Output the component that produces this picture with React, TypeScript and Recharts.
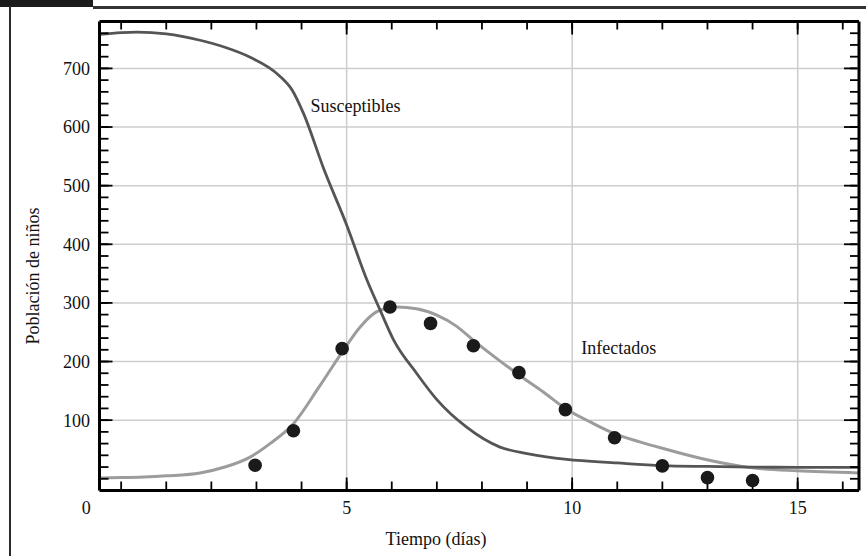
import React from 'react';
import {
  ComposedChart, Line, Scatter, XAxis, YAxis, ReferenceLine, ReferenceDot, Label
} from 'recharts';

// curva modelo: susceptibles (días, niños)
const susceptibles = [
  { x: -0.48, y: 758 }, { x: 0, y: 761 }, { x: 0.35, y: 762 }, { x: 1, y: 759 },
  { x: 1.75, y: 748 }, { x: 2.3, y: 736 }, { x: 2.86, y: 719 }, { x: 3.5, y: 688 },
  { x: 3.8, y: 662 }, { x: 4.05, y: 622 }, { x: 4.5, y: 527 }, { x: 5.0, y: 433 },
  { x: 5.45, y: 339 }, { x: 5.74, y: 288 }, { x: 6.04, y: 237 }, { x: 6.55, y: 180 },
  { x: 7.0, y: 135 }, { x: 7.66, y: 88 }, { x: 8.4, y: 54 }, { x: 9.0, y: 43 },
  { x: 9.88, y: 33 }, { x: 11.0, y: 27 }, { x: 12.0, y: 22.5 }, { x: 13, y: 21 },
  { x: 14, y: 20 }, { x: 15, y: 19.5 }, { x: 16.36, y: 19.5 },
];

// curva modelo: infectados
const infectados = [
  { x: -0.48, y: 1.5 }, { x: 0, y: 2 }, { x: 0.5, y: 3 }, { x: 1, y: 5 },
  { x: 1.75, y: 10 }, { x: 2.3, y: 20 }, { x: 2.86, y: 37 }, { x: 3.3, y: 60 },
  { x: 3.82, y: 94 }, { x: 4.4, y: 158 }, { x: 4.9, y: 216 }, { x: 5.3, y: 259 },
  { x: 5.67, y: 285 }, { x: 6.11, y: 293 }, { x: 6.55, y: 290 }, { x: 7.0, y: 279 },
  { x: 7.44, y: 260 }, { x: 7.81, y: 236 }, { x: 8.33, y: 205 }, { x: 8.82, y: 177 },
  { x: 9.36, y: 148 }, { x: 9.85, y: 120 }, { x: 10.4, y: 97 }, { x: 10.94, y: 77 },
  { x: 11.5, y: 63 }, { x: 12.0, y: 52 }, { x: 12.84, y: 35 }, { x: 13.95, y: 19 },
  { x: 14.98, y: 13.5 }, { x: 16.36, y: 10 },
];

// datos observados
const observados = [
  { x: 2.97, y: 23 }, { x: 3.82, y: 82 }, { x: 4.9, y: 222 }, { x: 5.96, y: 293 },
  { x: 6.86, y: 265 }, { x: 7.81, y: 227 }, { x: 8.82, y: 181 }, { x: 9.85, y: 118 },
  { x: 10.94, y: 70 }, { x: 12.0, y: 22 }, { x: 13.0, y: 2 }, { x: 14.0, y: -3 },
];

const X_DOMAIN = [-0.48, 16.36];
const Y_DOMAIN = [-20, 780];
const X_LABELS = [0, 5, 10, 15];
const X_MAJOR = [5, 10, 15];
const X_MINOR = [0, 1, 2, 3, 4, 5, 6, 7, 8, 9, 10, 11, 12, 13, 14, 15, 16];
const Y_LABELS = [100, 200, 300, 400, 500, 600, 700];
const Y_MINOR = Array.from({ length: 39 }, (_, i) => i * 20);

const FONT = '"Liberation Serif", "Times New Roman", serif';
const TXT = '#111';
const frame = { stroke: '#000', strokeWidth: 3 };
const tickStroke = { stroke: '#000', strokeWidth: 1.8 };
const noLabel = () => <g />;

function XTick({ x, y, payload }: any) {
  const shift = payload.value === 0 ? -35 : 0;
  return (
    <text x={x + shift} y={y} dy="0.71em" textAnchor="middle" fontSize={18} fontFamily={FONT} fill={TXT}>
      {payload.value}
    </text>
  );
}

export default function App() {
  return (
    <div style={{ position: 'absolute', left: 0, top: 0, width: 866, height: 556, background: '#fff' }}>
      <div style={{ position: 'absolute', left: 0, top: 0, width: 93, height: 7, background: '#1c1c1c' }} />
      <div style={{ position: 'absolute', left: 93, top: 6, width: 773, height: 2.5, background: '#333' }} />
      <div style={{ position: 'absolute', left: 8.5, top: 6, width: 2.5, height: 550, background: '#2a2a2a' }} />
      <ComposedChart
        width={866}
        height={556}
        margin={{ top: 21.5, right: 7, bottom: 0.5, left: 0 }}
        style={{ position: 'absolute', left: 0, top: 0 }}
      >
        <XAxis xAxisId="x" dataKey="x" type="number" domain={X_DOMAIN} allowDataOverflow
          ticks={X_LABELS} interval={0} height={65} tickLine={false} tickSize={0} tickMargin={11}
          axisLine={frame} tick={<XTick />}>
          <Label content={(p: any) => (
            <text x={p.viewBox.x + 336.5} y={p.viewBox.y + 54.5} textAnchor="middle"
              fontSize={18} fontFamily={FONT} fill={TXT}>Tiempo (días)</text>
          )} />
        </XAxis>
        <XAxis xAxisId="xmin" dataKey="x" type="number" domain={X_DOMAIN} allowDataOverflow
          ticks={X_MINOR} interval={0} height={1} mirror tick={noLabel} tickSize={8}
          tickLine={tickStroke} axisLine={false} />
        <XAxis xAxisId="xmaj" dataKey="x" type="number" domain={X_DOMAIN} allowDataOverflow
          ticks={X_MAJOR} interval={0} height={1} mirror tick={noLabel} tickSize={13}
          tickLine={tickStroke} axisLine={false} />
        <XAxis xAxisId="xtop" orientation="top" dataKey="x" type="number" domain={X_DOMAIN} allowDataOverflow
          ticks={X_MINOR} interval={0} height={1} mirror tick={noLabel} tickSize={7}
          tickLine={tickStroke} axisLine={false} />
        <XAxis xAxisId="xtopmaj" orientation="top" dataKey="x" type="number" domain={X_DOMAIN} allowDataOverflow
          ticks={X_MAJOR} interval={0} height={1} mirror tick={noLabel} tickSize={11}
          tickLine={tickStroke} axisLine={false} />

        <YAxis yAxisId="y" type="number" domain={Y_DOMAIN} allowDataOverflow ticks={Y_LABELS}
          interval={0} width={99.5} tickLine={false} tickSize={0} tickMargin={9.5} axisLine={frame}
          tick={{ fontSize: 18, fill: TXT, fontFamily: FONT }}>
          <Label content={(p: any) => {
            const cx = p.viewBox.x + p.viewBox.width - 60.5;
            const cy = p.viewBox.y + 254.5;
            return (
              <text x={cx} y={cy} transform={`rotate(-90, ${cx}, ${cy})`} textAnchor="middle"
                fontSize={18} fontFamily={FONT} fill={TXT}>Población de niños</text>
            );
          }} />
        </YAxis>
        <YAxis yAxisId="ymin" type="number" domain={Y_DOMAIN} allowDataOverflow ticks={Y_MINOR}
          interval={0} width={1} mirror tick={noLabel} tickSize={8} tickLine={tickStroke} axisLine={false} />
        <YAxis yAxisId="ymaj" type="number" domain={Y_DOMAIN} allowDataOverflow ticks={Y_LABELS}
          interval={0} width={1} mirror tick={noLabel} tickSize={13} tickLine={tickStroke} axisLine={false} />
        <YAxis yAxisId="yr" orientation="right" type="number" domain={Y_DOMAIN} allowDataOverflow ticks={Y_MINOR}
          interval={0} width={1} mirror tick={noLabel} tickSize={8} tickLine={tickStroke} axisLine={false} />
        <YAxis yAxisId="yrmaj" orientation="right" type="number" domain={Y_DOMAIN} allowDataOverflow ticks={Y_LABELS}
          interval={0} width={1} mirror tick={noLabel} tickSize={13} tickLine={tickStroke} axisLine={false} />

        {X_MAJOR.map((v) => (
          <ReferenceLine key={`gx${v}`} xAxisId="x" yAxisId="y" x={v} stroke="#cdcdcd" strokeWidth={1.5} />
        ))}
        {Y_LABELS.map((v) => (
          <ReferenceLine key={`gy${v}`} xAxisId="x" yAxisId="y" y={v} stroke="#cdcdcd" strokeWidth={1.5} />
        ))}

        <Line xAxisId="x" yAxisId="y" data={infectados} dataKey="y" type="monotone"
          stroke="#9c9c9c" strokeWidth={3} dot={false} activeDot={false} isAnimationActive={false} />
        <Line xAxisId="x" yAxisId="y" data={susceptibles} dataKey="y" type="monotone"
          stroke="#555" strokeWidth={2.8} dot={false} activeDot={false} isAnimationActive={false} />
        <Scatter xAxisId="x" yAxisId="y" data={observados} dataKey="y" isAnimationActive={false}
          shape={(p: any) => <circle cx={p.cx} cy={p.cy} r={6.8} fill="#1a1a1a" />} />

        <ReferenceDot xAxisId="x" yAxisId="y" x={4.2} y={637} r={0} fill="none" stroke="none"
          label={{ value: 'Susceptibles', position: 'right', offset: 0, fontSize: 18, fontFamily: FONT, fill: TXT }} />
        <ReferenceDot xAxisId="x" yAxisId="y" x={10.2} y={223} r={0} fill="none" stroke="none"
          label={{ value: 'Infectados', position: 'right', offset: 0, fontSize: 18, fontFamily: FONT, fill: TXT }} />

        {/* marco superior y derecho, encima de las marcas */}
        <XAxis xAxisId="xframe" orientation="top" dataKey="x" type="number" domain={X_DOMAIN} allowDataOverflow
          ticks={[]} height={1} mirror tick={false} tickLine={false} axisLine={frame} />
        <YAxis yAxisId="yframe" orientation="right" type="number" domain={Y_DOMAIN} allowDataOverflow
          ticks={[]} width={1} mirror tick={false} tickLine={false} axisLine={frame} />
      </ComposedChart>
    </div>
  );
}
